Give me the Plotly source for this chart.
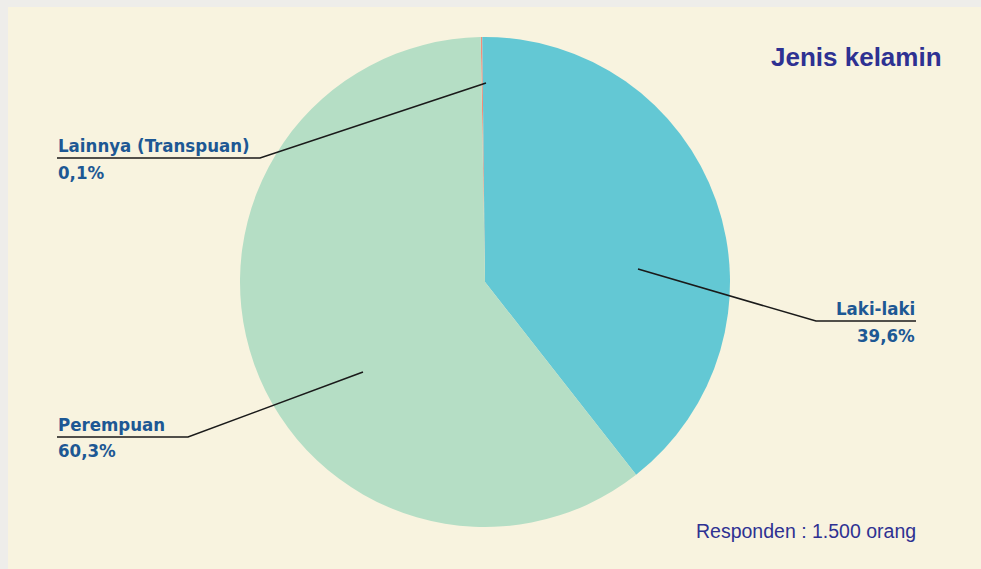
import plotly.graph_objects as go

# Survey data: respondents by gender
categories = ["Lainnya (Transpuan)", "Laki-laki", "Perempuan"]
shares = [0.1, 39.6, 60.3]
share_labels = ["0,1%", "39,6%", "60,3%"]
colors = ["#F28C7B", "#63C8D4", "#B5DEC5"]

W, H = 981, 569


def px(x):
    return x / W


def py(y):
    return 1 - y / H


LABEL_FONT = "DejaVu Sans Condensed, Liberation Sans Narrow, Arial Narrow, sans-serif"
LABEL_COLOR = "#1D5894"

fig = go.Figure(
    go.Pie(
        labels=categories,
        values=shares,
        sort=False,
        direction="clockwise",
        rotation=-1,
        marker=dict(colors=colors, line=dict(width=0)),
        textinfo="none",
        hoverinfo="label+percent",
        showlegend=False,
        domain=dict(x=[px(240), px(730)], y=[py(527), py(37)]),
    )
)

shapes = [
    # cream panel over the light textured frame
    dict(type="rect", xref="paper", yref="paper", x0=px(8), x1=1.01, y0=-0.01, y1=py(7),
         fillcolor="#F8F3DF", line=dict(width=0), layer="below"),
]

# leader lines: (anchor on slice, elbow, end of underline)
leaders = [
    [(486, 83), (260, 158), (57, 158)],
    [(638, 269), (816, 321), (916, 321)],
    [(363, 372), (188, 437), (57, 437)],
]
for pts in leaders:
    path = "M {} {} L {} {} L {} {}".format(
        px(pts[0][0]), py(pts[0][1]), px(pts[1][0]), py(pts[1][1]), px(pts[2][0]), py(pts[2][1])
    )
    shapes.append(dict(type="path", xref="paper", yref="paper", path=path,
                       line=dict(color="#1A1A1A", width=1.6), layer="above"))

annotations = []
# (name y, value y, x, anchor)
label_pos = [
    (145, 172, 56, "left"),
    (308, 335, 917, "right"),
    (424, 450, 56, "left"),
]
for name, val, (yn, yv, x, anchor) in zip(categories, share_labels, label_pos):
    for txt, y in ((name, yn), (val, yv)):
        annotations.append(dict(
            text="<b>" + txt + "</b>", x=px(x), y=py(y), xref="paper", yref="paper",
            xanchor=anchor, yanchor="middle", showarrow=False,
            font=dict(family=LABEL_FONT, size=18.5, color=LABEL_COLOR),
        ))

annotations.append(dict(
    text="<b>Jenis kelamin</b>", x=px(944), y=py(57), xref="paper", yref="paper",
    xanchor="right", yanchor="middle", showarrow=False,
    font=dict(family="Liberation Sans, Arial, sans-serif", size=26, color="#2E3192"),
))
annotations.append(dict(
    text="Responden : 1.500 orang", x=px(918), y=py(531), xref="paper", yref="paper",
    xanchor="right", yanchor="middle", showarrow=False,
    font=dict(family="Liberation Sans, Arial, sans-serif", size=19.5, color="#2E3192"),
))

fig.update_layout(
    width=W, height=H,
    margin=dict(l=0, r=0, t=0, b=0),
    paper_bgcolor="#EEEDEA",
    plot_bgcolor="#EEEDEA",
    shapes=shapes,
    annotations=annotations,
)

fig.write_html("out.html", config={"displayModeBar": False})
